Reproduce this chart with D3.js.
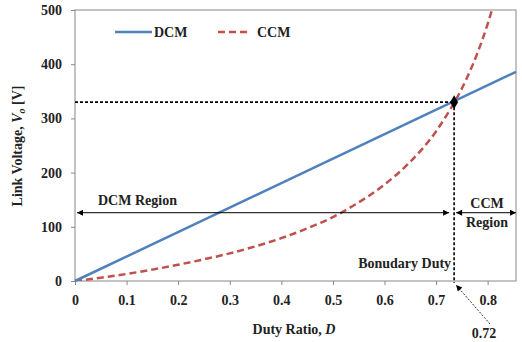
<!DOCTYPE html>
<html>
<head>
<meta charset="utf-8">
<script src="https://cdn.jsdelivr.net/npm/d3@7"></script>
<style>
body { margin: 0; background: #fff; }
text { font-family: "Liberation Serif", "Times New Roman", serif; font-weight: bold; fill: #222; }
</style>
</head>
<body>
<div id="content"></div>
<script>
// data
var dcmD = [0, 0.855];
var dcmV = [0, 386];
var ccmD = [0, 0.05, 0.1, 0.15, 0.2, 0.25, 0.3, 0.35, 0.4, 0.45, 0.5, 0.55, 0.6, 0.65, 0.7, 0.72, 0.74, 0.76, 0.78, 0.8, 0.81];
var ccmV = [0, 6, 13, 21, 30, 40, 51, 64, 79, 97, 118, 145, 178, 220, 276, 305, 337, 375, 420, 474, 505];
var xTicks = [0, 0.1, 0.2, 0.3, 0.4, 0.5, 0.6, 0.7, 0.8];
var yTicks = [0, 100, 200, 300, 400, 500];
var boundD = 0.735, boundV = 330, regionV = 126;

var W = 522, H = 342;
var m = {left: 75, right: 6, top: 10, bottom: 61};
var fs = 14;

var svg = d3.select("#content").append("svg")
	.attr("width", W)
	.attr("height", H);

var x = d3.scaleLinear().domain([0, 0.855]).range([m.left, W - m.right]);
var y = d3.scaleLinear().domain([0, 500]).range([H - m.bottom, m.top]);

/* axes */
svg.append("g")
	.attr("transform", "translate(0," + y(0) + ")")
	.call(d3.axisBottom(x).tickValues(xTicks).tickSize(4).tickPadding(10).tickFormat(function(d){ return d == 0 ? "0" : d3.format(".1f")(d); }))
	.call(function(g){
		g.select(".domain").remove();
		g.selectAll("line").attr("stroke", "#888");
		g.selectAll("text").attr("font-size", fs).style("font-family", "Liberation Serif");
	});

svg.append("g")
	.attr("transform", "translate(" + m.left + ",0)")
	.call(d3.axisLeft(y).tickValues(yTicks).tickSize(4).tickPadding(9))
	.call(function(g){
		g.select(".domain").remove();
		g.selectAll("line").attr("stroke", "#888");
		g.selectAll("text").attr("font-size", fs).style("font-family", "Liberation Serif");
	});

svg.append("rect")
	.attr("x", m.left)
	.attr("y", m.top)
	.attr("width", W - m.right - m.left)
	.attr("height", H - m.bottom - m.top)
	.attr("fill", "none")
	.attr("stroke", "#888")
	.attr("stroke-width", 1);

/* curves */
svg.append("clipPath").attr("id", "clip").append("rect")
	.attr("x", m.left).attr("y", m.top)
	.attr("width", W - m.right - m.left).attr("height", H - m.bottom - m.top);

var line = d3.line().x(function(d){ return x(d[0]); }).y(function(d){ return y(d[1]); });

svg.append("path")
	.datum(d3.zip(ccmD, ccmV))
	.attr("d", line.curve(d3.curveMonotoneX))
	.attr("clip-path", "url(#clip)")
	.attr("fill", "none")
	.attr("stroke", "#c0504d")
	.attr("stroke-width", 2.5)
	.attr("stroke-dasharray", "7,4");

svg.append("path")
	.datum(d3.zip(dcmD, dcmV))
	.attr("d", d3.line().x(function(d){ return x(d[0]); }).y(function(d){ return y(d[1]); }))
	.attr("fill", "none")
	.attr("stroke", "#4f81bd")
	.attr("stroke-width", 2.5);

/* boundary markers */
svg.append("line")
	.attr("x1", x(0)).attr("y1", y(boundV))
	.attr("x2", x(boundD)).attr("y2", y(boundV))
	.attr("stroke", "#000").attr("stroke-width", 1.6).attr("stroke-dasharray", "3,2");
svg.append("line")
	.attr("x1", x(boundD)).attr("y1", y(boundV))
	.attr("x2", x(boundD)).attr("y2", y(0) + 2)
	.attr("stroke", "#000").attr("stroke-width", 1.6).attr("stroke-dasharray", "3,2");
svg.append("path")
	.attr("d", d3.symbol().type(d3.symbolDiamond).size(55)())
	.attr("transform", "translate(" + x(boundD) + "," + y(boundV) + ")")
	.attr("fill", "#000");

/* arrows */
var defs = svg.append("defs");
defs.append("marker")
	.attr("id", "ah")
	.attr("viewBox", "0 0 10 10")
	.attr("refX", 10).attr("refY", 5)
	.attr("markerWidth", 10).attr("markerHeight", 6)
	.attr("markerUnits", "userSpaceOnUse")
	.attr("orient", "auto-start-reverse")
	.append("path").attr("d", "M0,0L10,5L0,10z").attr("fill", "#000");
defs.append("marker")
	.attr("id", "ahs")
	.attr("viewBox", "0 0 10 10")
	.attr("refX", 10).attr("refY", 5)
	.attr("markerWidth", 8).attr("markerHeight", 6)
	.attr("markerUnits", "userSpaceOnUse")
	.attr("orient", "auto")
	.append("path").attr("d", "M0,0L10,5L0,10z").attr("fill", "#000");

svg.append("line")
	.attr("x1", x(0) + 2).attr("y1", y(regionV))
	.attr("x2", x(boundD) - 5).attr("y2", y(regionV))
	.attr("stroke", "#000").attr("stroke-width", 1)
	.attr("marker-start", "url(#ah)").attr("marker-end", "url(#ah)");
svg.append("line")
	.attr("x1", x(boundD) + 2).attr("y1", y(regionV))
	.attr("x2", W - m.right).attr("y2", y(regionV))
	.attr("stroke", "#000").attr("stroke-width", 1)
	.attr("marker-start", "url(#ah)").attr("marker-end", "url(#ah)");

svg.append("line")
	.attr("x1", 490).attr("y1", 324)
	.attr("x2", x(boundD) + 2).attr("y2", y(0) + 4)
	.attr("stroke", "#000").attr("stroke-width", 0.8).attr("stroke-dasharray", "2,1.5")
	.attr("marker-end", "url(#ahs)");

/* labels */
svg.append("text").attr("x", 98).attr("y", y(regionV) - 8).attr("font-size", fs).text("DCM Region");
svg.append("text").attr("x", 487).attr("y", y(regionV) - 5).attr("font-size", fs).attr("text-anchor", "middle").text("CCM");
svg.append("text").attr("x", 487).attr("y", y(regionV) + 14).attr("font-size", fs).attr("text-anchor", "middle").text("Region");
svg.append("text").attr("x", x(boundD) - 3).attr("y", 268).attr("font-size", fs).attr("text-anchor", "end").text("Bonudary Duty");
svg.append("text").attr("x", 484).attr("y", 338).attr("font-size", fs).attr("text-anchor", "middle").text("0.72");

var xt = svg.append("text").attr("x", 294).attr("y", 334).attr("font-size", fs).attr("text-anchor", "middle");
xt.append("tspan").text("Duty Ratio, ");
xt.append("tspan").attr("font-style", "italic").text("D");

var yt = svg.append("text")
	.attr("transform", "translate(22,146) rotate(-90)")
	.attr("font-size", fs).attr("text-anchor", "middle");
yt.append("tspan").text("Link Voltage, ");
yt.append("tspan").attr("font-style", "italic").text("V");
yt.append("tspan").attr("font-style", "italic").attr("font-size", 10).attr("dy", 3).text("o");
yt.append("tspan").attr("dy", -3).text(" [V]");

/* legend */
var lg = svg.append("g");
lg.append("line").attr("x1", 115).attr("x2", 152).attr("y1", 32).attr("y2", 32)
	.attr("stroke", "#4f81bd").attr("stroke-width", 2.5);
lg.append("text").attr("x", 154).attr("y", 37).attr("font-size", fs).text("DCM");
lg.append("line").attr("x1", 218).attr("x2", 250).attr("y1", 32).attr("y2", 32)
	.attr("stroke", "#c0504d").attr("stroke-width", 2.5).attr("stroke-dasharray", "7,4");
lg.append("text").attr("x", 257).attr("y", 37).attr("font-size", fs).text("CCM");
</script>
</body>
</html>
